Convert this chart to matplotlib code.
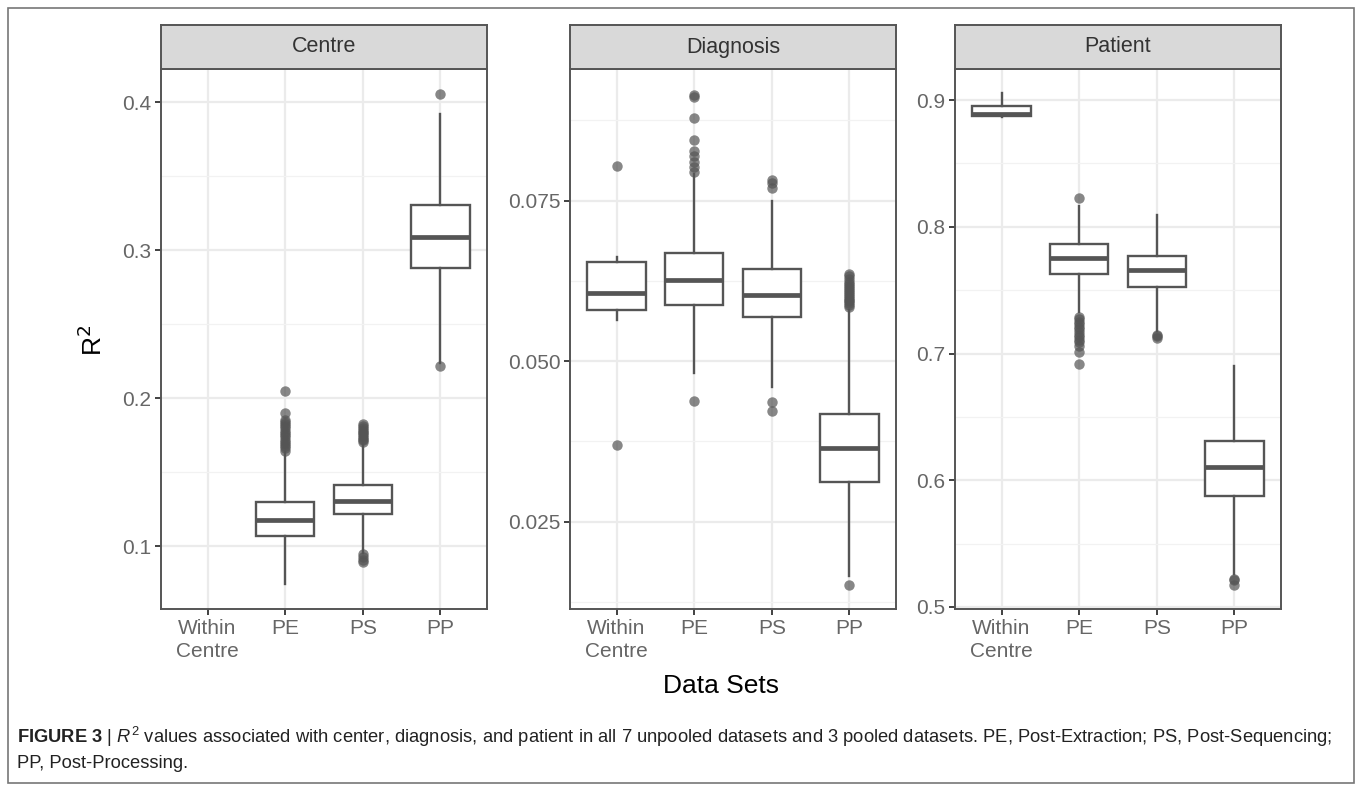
import numpy as np
import matplotlib
matplotlib.use("Agg")
import matplotlib.pyplot as plt
from matplotlib import font_manager as fm
from matplotlib.patches import Rectangle

# police : Liberation Sans (metrique Helvetica), legende en version etroite si dispo
try:
    fm.findfont("Liberation Sans Narrow", fallback_to_default=False)
    narrow = "Liberation Sans Narrow"
except Exception:
    narrow = "Liberation Sans"

plt.rcParams['font.family'] = ['Liberation Sans', 'DejaVu Sans']
plt.rcParams['mathtext.fontset'] = 'custom'
plt.rcParams['mathtext.rm'] = narrow
plt.rcParams['mathtext.it'] = narrow + ':italic'
plt.rcParams['mathtext.bf'] = narrow + ':bold'

# Donnees
categories = ["Within\nCentre", "PE", "PS", "PP"]
panels = ["Centre", "Diagnosis", "Patient"]

centre_q1 = [None, 0.1069, 0.1217, 0.2878]
centre_med = [None, 0.1179, 0.1305, 0.3092]
centre_q3 = [None, 0.1298, 0.1411, 0.3305]
centre_lo = [None, 0.0743, 0.0955, 0.2235]
centre_hi = [None, 0.1635, 0.1690, 0.3924]
centre_out = [[],
              [0.2047, 0.1898, 0.1855, 0.1840, 0.1825, 0.1810, 0.1795, 0.1780, 0.1765,
               0.1750, 0.1735, 0.1720, 0.1705, 0.1690, 0.1675, 0.1660, 0.1645],
              [0.1822, 0.1810, 0.1798, 0.1786, 0.1774, 0.1762, 0.1750, 0.1738, 0.1726,
               0.1714, 0.1702, 0.0945, 0.0925, 0.0905, 0.0892],
              [0.4059, 0.2215]]

diag_q1 = [0.0580, 0.0587, 0.0569, 0.0312]
diag_med = [0.0606, 0.0626, 0.0603, 0.0365]
diag_q3 = [0.0655, 0.0669, 0.0644, 0.0418]
diag_lo = [0.0564, 0.0481, 0.0460, 0.0165]
diag_hi = [0.0662, 0.0791, 0.0750, 0.0579]
diag_out = [[0.0804, 0.0369],
            [0.0915, 0.0912, 0.0879, 0.0844, 0.0827, 0.0819, 0.0810, 0.0802, 0.0795, 0.0438],
            [0.0782, 0.0777, 0.0769, 0.0436, 0.0423],
            [0.0635, 0.0632, 0.0628, 0.0624, 0.0620, 0.0617, 0.0614, 0.0611, 0.0608,
             0.0605, 0.0602, 0.0599, 0.0596, 0.0593, 0.0590, 0.0587, 0.0584, 0.0151]]

pat_q1 = [0.8874, 0.7631, 0.7524, 0.5878]
pat_med = [0.8890, 0.7752, 0.7656, 0.6101]
pat_q3 = [0.8955, 0.7862, 0.7769, 0.6307]
pat_lo = [0.8866, 0.7329, 0.7174, 0.5258]
pat_hi = [0.9054, 0.8161, 0.8090, 0.6901]
pat_out = [[],
           [0.8225, 0.7287, 0.7270, 0.7250, 0.7230, 0.7210, 0.7190, 0.7170, 0.7150,
            0.7130, 0.7110, 0.7090, 0.7062, 0.7011, 0.6915],
           [0.7146, 0.7135, 0.7123],
           [0.5224, 0.5215, 0.5174]]

panel_data = [
    (centre_q1, centre_med, centre_q3, centre_lo, centre_hi, centre_out),
    (diag_q1, diag_med, diag_q3, diag_lo, diag_hi, diag_out),
    (pat_q1, pat_med, pat_q3, pat_lo, pat_hi, pat_out),
]

ylims = [(0.0574, 0.4226), (0.0114, 0.0955), (0.4984, 0.9245)]
yticks_major = [[0.1, 0.2, 0.3, 0.4], [0.025, 0.050, 0.075], [0.5, 0.6, 0.7, 0.8, 0.9]]
yticks_minor = [[0.15, 0.25, 0.35], [0.0125, 0.0375, 0.0625, 0.0875], [0.55, 0.65, 0.75, 0.85]]
ytick_labels = [["0.1", "0.2", "0.3", "0.4"], ["0.025", "0.050", "0.075"],
                ["0.5", "0.6", "0.7", "0.8", "0.9"]]

line_col = "#555555"
text_col = "#666666"

W, H = 1358, 785
fig = plt.figure(figsize=(W / 100, H / 100), dpi=100)

# cadre autour de toute la figure
fig.patches.append(Rectangle((8 / W, 2 / H), 1346 / W, (H - 10) / H, transform=fig.transFigure,
                             fill=False, edgecolor="#777777", linewidth=1.2))

lefts = [161, 570, 955]
pw = 326
ax_top, ax_bot, strip_top = 69, 609, 25

for i, name in enumerate(panels):
    ax = fig.add_axes([lefts[i] / W, (H - ax_bot) / H, pw / W, (ax_bot - ax_top) / H])
    q1, med, q3, lo, hi, out = panel_data[i]
    stats, pos = [], []
    for k in range(len(categories)):
        if med[k] is None:
            continue
        stats.append(dict(med=med[k], q1=q1[k], q3=q3[k], whislo=lo[k], whishi=hi[k], fliers=out[k]))
        pos.append(k + 1)
    ax.bxp(stats, positions=pos, widths=0.75, showcaps=False, patch_artist=True,
           boxprops=dict(facecolor="white", edgecolor=line_col, linewidth=1.7),
           whiskerprops=dict(color=line_col, linewidth=1.7),
           medianprops=dict(color=line_col, linewidth=3.4),
           flierprops=dict(marker='o', markerfacecolor="#555555", markeredgecolor="none",
                           alpha=0.7, markersize=7.5))
    ax.set_xlim(0.4, 4.6)
    ax.set_ylim(*ylims[i])
    ax.set_xticks(range(1, 5))
    ax.set_xticklabels(categories, fontsize=15, color=text_col, linespacing=1.3)
    ax.set_yticks(yticks_major[i])
    ax.set_yticklabels(ytick_labels[i], fontsize=15, color=text_col)
    ax.set_yticks(yticks_minor[i], minor=True)
    ax.tick_params(which='major', length=4, width=1.3, color="#333333", pad=3)
    ax.tick_params(which='minor', length=0)
    ax.grid(True, which='major', color="#EBEBEB", linewidth=1.6)
    ax.grid(True, which='minor', axis='y', color="#F2F2F2", linewidth=0.9)
    ax.set_axisbelow(True)
    for s in ax.spines.values():
        s.set_color(line_col)
        s.set_linewidth(1.4)

    # bandeau du facet
    sx = fig.add_axes([lefts[i] / W, (H - ax_top) / H, pw / W, (ax_top - strip_top) / H])
    sx.set_facecolor("#D9D9D9")
    sx.set_xticks([])
    sx.set_yticks([])
    for s in sx.spines.values():
        s.set_color(line_col)
        s.set_linewidth(1.4)
    sx.text(0.5, 0.5, name, ha='center', va='center', fontsize=15.5, color="#333333",
            transform=sx.transAxes)

fig.text(93 / W, 1 - 340 / H, "R$^2$", rotation=90, ha='center', va='center',
         fontsize=19, color="black", family='Liberation Sans', math_fontfamily='dejavusans')
fig.text(721 / W, 1 - 686 / H, "Data Sets", ha='center', va='center', fontsize=19, color="black")

# legende : taille ajustee pour tenir dans la largeur du cadre
cap1 = (r"$\mathbf{FIGURE\ 3}$ | $\mathit{R}^2$ values associated with center, diagnosis, and patient "
        "in all 7 unpooled datasets and 3 pooled datasets. PE, Post-Extraction; PS, Post-Sequencing;")
cap2 = "PP, Post-Processing."
t1 = fig.text(17 / W, 1 - 737 / H, cap1, ha='left', va='center', fontsize=14.5, family=narrow, color="#222222")
t2 = fig.text(17 / W, 1 - 763 / H, cap2, ha='left', va='center', fontsize=14.5, family=narrow, color="#222222")
rend = fig.canvas.get_renderer()
w1 = t1.get_window_extent(rend).width
fs = 14.5 * min(1.0, 1318 / w1)
t1.set_fontsize(fs)
t2.set_fontsize(fs)

fig.savefig("out.png", dpi=100)
